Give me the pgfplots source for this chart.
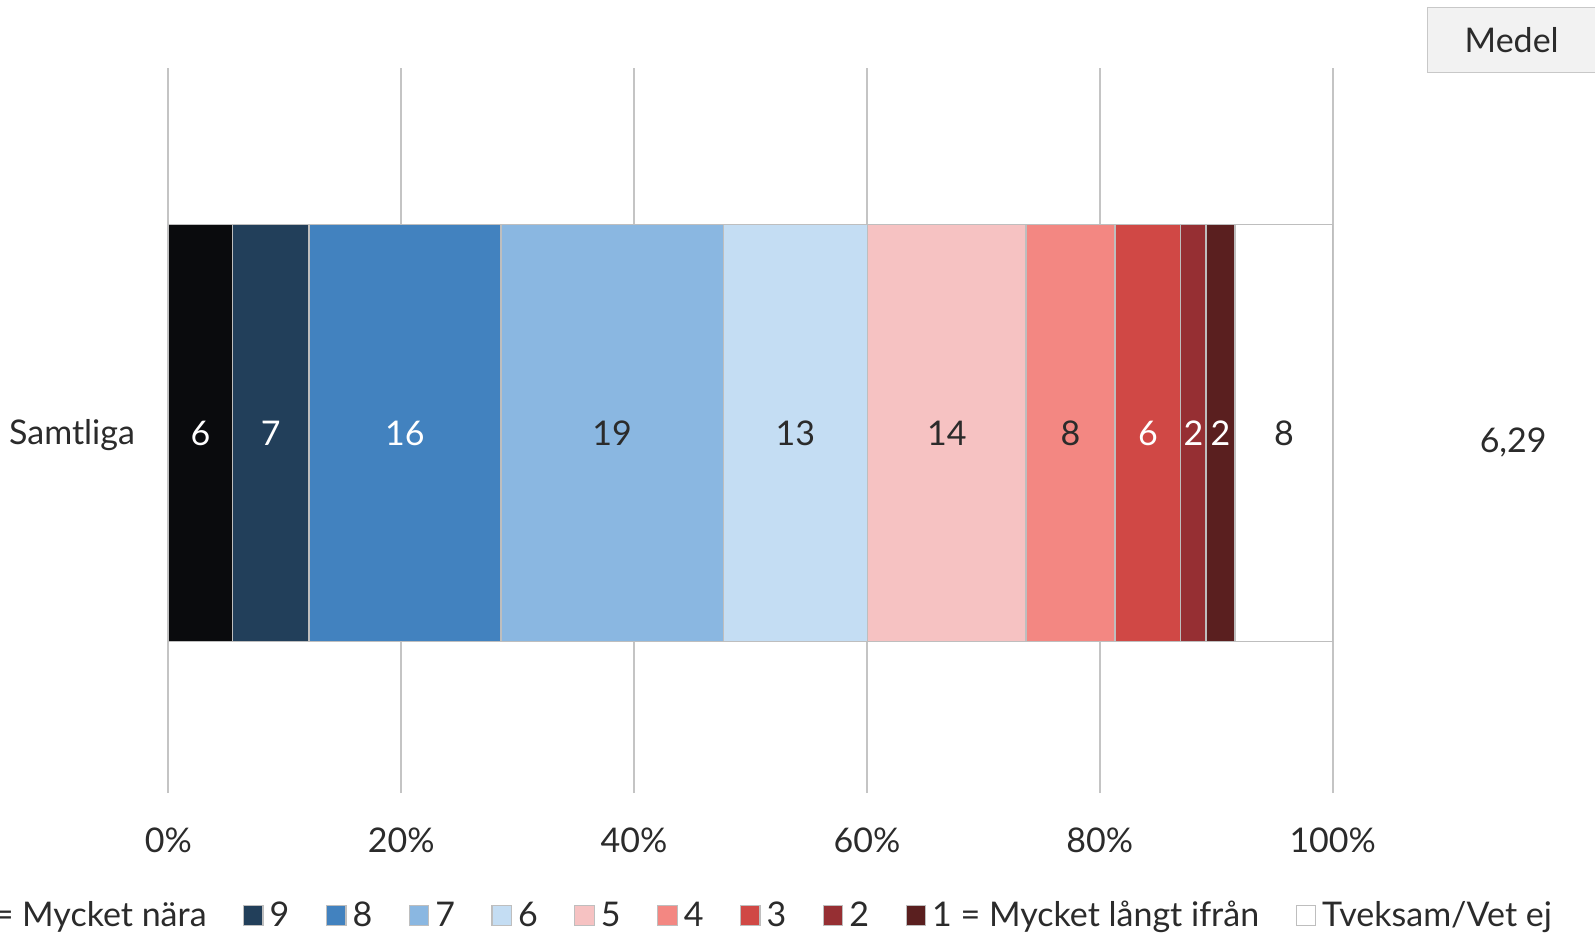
\documentclass[border=0pt]{standalone}
\usepackage{pgfplots}
\pgfplotsset{compat=1.18}
\usepackage{fontspec}
\setmainfont{Lato}
\definecolor{c10}{HTML}{0A0B0D}
\definecolor{c9}{HTML}{223F5A}
\definecolor{c8}{HTML}{4282BF}
\definecolor{c7}{HTML}{8AB7E1}
\definecolor{c6}{HTML}{C4DDF3}
\definecolor{c5}{HTML}{F6C2C2}
\definecolor{c4}{HTML}{F38782}
\definecolor{c3}{HTML}{D04845}
\definecolor{c2}{HTML}{962F33}
\definecolor{c1}{HTML}{5A1F1F}
\definecolor{txt}{HTML}{2B2B2B}
\definecolor{gridc}{HTML}{C4C4C4}
\definecolor{edgec}{HTML}{BEBEBE}
\definecolor{boxfill}{HTML}{F2F2F2}
\definecolor{boxedge}{HTML}{C8C8C8}
\begin{document}
\begin{tikzpicture}[font=\fontsize{17}{20}\selectfont, text=txt]
\path[use as bounding box] (0,0) rectangle (797.5pt,467pt);
\begin{axis}[
  at={(84.15pt,70.5pt)}, anchor=south west,
  scale only axis, width=582.2pt, height=362.5pt,
  xbar stacked, bar width=1.15,
  xmin=0, xmax=100, ymin=-1, ymax=1,
  axis line style={draw=none},
  xtick={0,20,40,60,80,100},
  xticklabels={0\%,20\%,40\%,60\%,80\%,100\%},
  ytick={0}, yticklabels={Samtliga},
  major tick length=0pt,
  tick style={draw=none},
  xmajorgrids, major grid style={draw=gridc, line width=1pt},
  xticklabel style={anchor=base, inner sep=0pt, yshift=-29.5pt, text=txt},
  yticklabel style={anchor=east, inner sep=0pt, xshift=-16.5pt, yshift=-2.5pt, text=txt},
  /pgf/number format/assume math mode=true,
  clip=false,
  legend columns=-1,
  legend style={at={(1.199,-0.169)}, anchor=east, draw=none, fill=none,
    font=\fontsize{17}{20}\selectfont, text=txt,
    nodes={inner xsep=3pt, inner ysep=0pt},
    /tikz/every even column/.append style={column sep=15.2pt}},
  legend image code/.code={\draw[#1, draw=edgec, line width=0.6pt] (0pt,-4.9pt) rectangle (9.75pt,4.9pt);},
]
\addplot[fill=c10, draw=edgec, line width=0.6pt] coordinates {(5.53,-0.006)};
\addplot[fill=c9, draw=edgec, line width=0.6pt] coordinates {(6.55,-0.006)};
\addplot[fill=c8, draw=edgec, line width=0.6pt] coordinates {(16.49,-0.006)};
\addplot[fill=c7, draw=edgec, line width=0.6pt] coordinates {(19.09,-0.006)};
\addplot[fill=c6, draw=edgec, line width=0.6pt] coordinates {(12.40,-0.006)};
\addplot[fill=c5, draw=edgec, line width=0.6pt] coordinates {(13.60,-0.006)};
\addplot[fill=c4, draw=edgec, line width=0.6pt] coordinates {(7.64,-0.006)};
\addplot[fill=c3, draw=edgec, line width=0.6pt] coordinates {(5.65,-0.006)};
\addplot[fill=c2, draw=edgec, line width=0.6pt] coordinates {(2.17,-0.006)};
\addplot[fill=c1, draw=edgec, line width=0.6pt] coordinates {(2.49,-0.006)};
\addplot[fill=white, draw=edgec, line width=0.6pt] coordinates {(8.39,-0.006)};
\legend{10 = Mycket nära, 9, 8, 7, 6, 5, 4, 3, 2, 1 = Mycket långt ifrån, Tveksam/Vet ej}
\node[yshift=-6pt] at (axis cs:115.5,0) {6,29};
\end{axis}
\begin{axis}[
  at={(84.15pt,70.5pt)}, anchor=south west,
  scale only axis, width=582.2pt, height=362.5pt,
  xmin=0, xmax=100, ymin=-1, ymax=1,
  hide axis, clip=false,
  point meta=explicit symbolic,
  nodes near coords, nodes near coords align={center},
]
\addplot[draw=none, mark=none, nodes near coords,
  every node near coord/.append style={anchor=center, inner sep=0pt, yshift=-1.5pt, text=white, font=\fontsize{17}{20}\selectfont}]
  coordinates {(2.765,0)[6] (8.805,0)[7] (20.325,0)[16] (84.125,0)[6] (88.035,0)[2] (90.365,0)[2]};
\addplot[draw=none, mark=none, nodes near coords,
  every node near coord/.append style={anchor=center, inner sep=0pt, yshift=-1.5pt, text=txt, font=\fontsize{17}{20}\selectfont}]
  coordinates {(38.115,0)[19] (53.86,0)[13] (66.86,0)[14] (77.48,0)[8] (95.805,0)[8]};
\end{axis}
\draw[draw=boxedge, fill=boxfill, line width=0.6pt] (713.85pt,430.85pt) rectangle (805pt,463.35pt);
\node at (755.85pt,447pt) {Medel};
\end{tikzpicture}
\end{document}
